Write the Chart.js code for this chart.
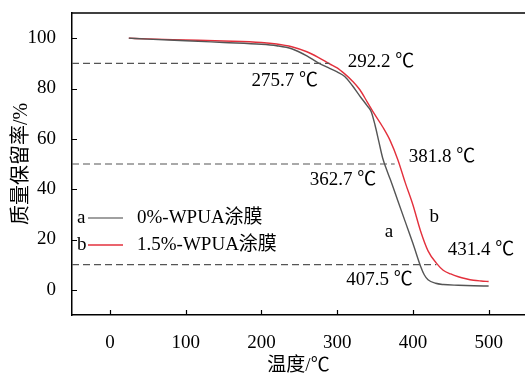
<!DOCTYPE html>
<html>
<head>
<meta charset="utf-8">
<script src="https://cdn.jsdelivr.net/npm/chart.js@4.4.0/dist/chart.umd.min.js"></script>
<style>
  html, body { margin: 0; padding: 0; background: #fff; }
</style>
</head>
<body>
<canvas id="tgaChart" width="525" height="374"></canvas>
<script>
// TGA curves: temperature (°C) vs. mass retention (%)
const tempsA = [25, 50, 100, 150, 200, 220, 240, 260, 275, 290, 300, 310, 320, 330, 340, 345, 350, 355, 360, 365, 370, 380, 390, 400, 410, 415, 420, 430, 440, 460, 480, 500];
const massA  = [100, 99.6, 99.0, 98.3, 97.6, 97.0, 95.8, 93.0, 90.2, 88.0, 86.6, 84.8, 81.2, 77.0, 73.0, 70.8, 65.5, 59.0, 52.5, 48.0, 44.0, 35.5, 27.0, 18.5, 9.5, 6.0, 4.0, 2.6, 2.1, 1.8, 1.6, 1.5];

const tempsB = [25, 50, 100, 150, 200, 220, 240, 260, 275, 290, 300, 310, 320, 330, 340, 350, 360, 370, 380, 390, 400, 410, 420, 431, 440, 450, 460, 470, 480, 490, 500];
const massB  = [100, 99.7, 99.3, 98.9, 98.3, 97.7, 96.6, 94.6, 92.4, 89.8, 88.2, 85.8, 83.0, 79.5, 74.5, 69.5, 64.8, 59.3, 51.8, 42.5, 33.8, 23.5, 15.5, 10.6, 7.8, 6.3, 5.2, 4.4, 3.8, 3.5, 3.3];

// Reference levels (mass %) and where each dashed guide stops (°C)
const guideLevels = [90, 50, 10];
const guideEnds   = [290, 376, 431];

const seriesNames = ["0%-WPUA涂膜", "1.5%-WPUA涂膜"];
const seriesTags  = ["a", "b"];

const xTicks = [0, 100, 200, 300, 400, 500];
const yTicks = [0, 20, 40, 60, 80, 100];

// Temperature labels, anchored in data coordinates
const notes = [
  { text: "292.2 ℃", x: 314, y: 90.6 },
  { text: "275.7 ℃", x: 187, y: 82.9 },
  { text: "381.8 ℃", x: 394.7, y: 52.9 },
  { text: "362.7 ℃", x: 263.9, y: 43.7 },
  { text: "b", x: 422, y: 29 },
  { text: "a", x: 362.8, y: 23.1 },
  { text: "431.4 ℃", x: 446, y: 15.9 },
  { text: "407.5 ℃", x: 312, y: 4 },
];

const SERIF = '"Liberation Serif", "Times New Roman", "Noto Sans CJK SC", serif';
const GRAY = "#555555";
const RED = "#e3303c";

const toPoints = (xs, ys) => xs.map((x, i) => ({ x, y: ys[i] }));

const guideSets = guideLevels.map((lvl, i) => ({
  data: [{ x: -50, y: lvl }, { x: guideEnds[i], y: lvl }],
  borderColor: "#555",
  borderWidth: 1.2,
  borderDash: [7, 4],
  pointRadius: 0,
  fill: false,
}));

// Frame top edge + inward tick marks
const frameTicks = {
  id: "frameTicks",
  afterDatasetsDraw(chart) {
    const { ctx, chartArea: a, scales: { x, y } } = chart;
    ctx.save();
    ctx.strokeStyle = "#000";
    ctx.lineWidth = 1.5;
    ctx.beginPath();
    ctx.moveTo(a.left, a.top);
    ctx.lineTo(a.right, a.top);
    ctx.stroke();
    ctx.lineWidth = 1.2;
    ctx.beginPath();
    x.ticks.forEach(t => {
      const px = Math.round(x.getPixelForValue(t.value)) + 0.5;
      ctx.moveTo(px, a.bottom);
      ctx.lineTo(px, a.bottom - 5);
    });
    y.ticks.forEach(t => {
      const py = Math.round(y.getPixelForValue(t.value)) + 0.5;
      ctx.moveTo(a.left, py);
      ctx.lineTo(a.left + 5, py);
    });
    ctx.stroke();
    ctx.restore();
  },
};

// Text labels on the curves and the small legend
const labels = {
  id: "labels",
  afterDraw(chart) {
    const { ctx, scales: { x, y } } = chart;
    ctx.save();
    ctx.fillStyle = "#000";
    ctx.font = "19px " + SERIF;
    ctx.textBaseline = "middle";
    ctx.textAlign = "left";
    notes.forEach(n => ctx.fillText(n.text, x.getPixelForValue(n.x), y.getPixelForValue(n.y)));

    // legend
    const rows = [218, 245];
    const colors = ["#808080", RED];
    rows.forEach((ry, i) => {
      ctx.fillStyle = "#000";
      ctx.fillText(seriesTags[i], 77, ry);
      ctx.strokeStyle = colors[i];
      ctx.lineWidth = 1.4;
      ctx.beginPath();
      ctx.moveTo(88, ry);
      ctx.lineTo(123, ry);
      ctx.stroke();
      ctx.fillText(seriesNames[i], 137, ry);
    });
    ctx.restore();
  },
};

new Chart(document.getElementById("tgaChart"), {
  type: "line",
  data: {
    datasets: [
      ...guideSets,
      {
        label: seriesNames[0],
        data: toPoints(tempsA, massA),
        borderColor: GRAY,
        borderWidth: 1.4,
        pointRadius: 0,
        cubicInterpolationMode: "monotone",
        fill: false,
      },
      {
        label: seriesNames[1],
        data: toPoints(tempsB, massB),
        borderColor: RED,
        borderWidth: 1.4,
        pointRadius: 0,
        cubicInterpolationMode: "monotone",
        fill: false,
      },
    ],
  },
  options: {
    responsive: false,
    animation: false,
    layout: { padding: { top: 13, right: 0, left: 0, bottom: 0 } },
    plugins: { legend: { display: false }, tooltip: { enabled: false } },
    scales: {
      x: {
        type: "linear",
        min: -50,
        max: 548,
        afterBuildTicks: s => { s.ticks = xTicks.map(v => ({ value: v })); },
        afterFit: s => { s.height = 59; s.paddingLeft = 0; s.paddingRight = 0; },
        grid: { display: false },
        border: { display: true, color: "#000", width: 1.5 },
        ticks: { color: "#000", padding: 9, maxRotation: 0, font: { family: SERIF, size: 19 } },
        title: {
          display: true,
          text: "温度/℃",
          color: "#000",
          font: { family: SERIF, size: 19, lineHeight: 1 },
          padding: { top: 0, bottom: -2 },
        },
      },
      y: {
        type: "linear",
        min: -10,
        max: 110,
        afterBuildTicks: s => { s.ticks = yTicks.map(v => ({ value: v })); },
        afterFit: s => { s.width = 72; s.paddingTop = 0; s.paddingBottom = 0; },
        grid: { display: false },
        border: { display: true, color: "#000", width: 1.5 },
        ticks: { color: "#000", padding: 8, font: { family: SERIF, size: 19 } },
        title: {
          display: true,
          text: "质量保留率/%",
          color: "#000",
          font: { family: SERIF, size: 20, lineHeight: 1 },
          padding: { top: 12, bottom: 0 },
        },
      },
    },
  },
  plugins: [frameTicks, labels],
});
</script>
</body>
</html>
